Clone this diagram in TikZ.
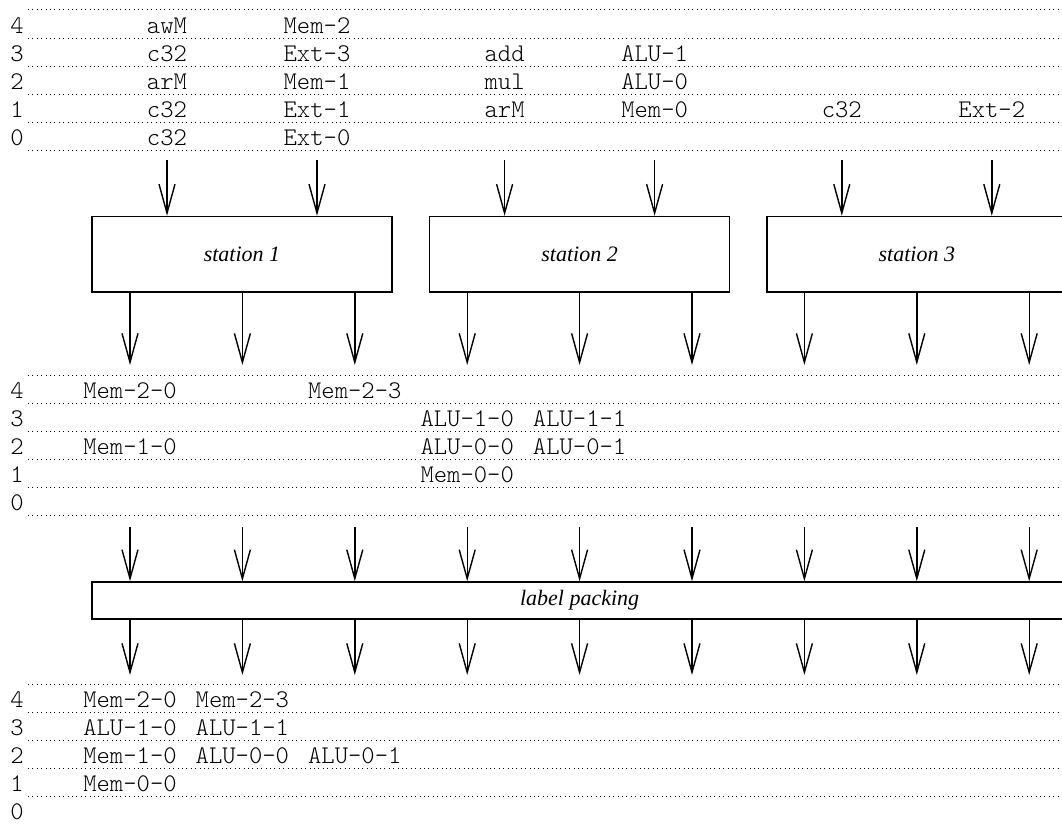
\documentclass[tikz,border=0pt]{standalone}
\usepackage{fontspec}
\setmainfont{Liberation Serif}
\setmonofont{Latin Modern Mono Light}
\usetikzlibrary{arrows.meta,positioning}
\tikzset{
  rowline/.style={
    line width=.5pt,
    dash pattern=on .5pt off 1.7pt
  },
  slot/.style={
    anchor=base,
    inner sep=0pt,
    font=\ttfamily\fontsize{12.7}{14}\selectfont
  },
  station/.style={
    draw,
    line width=.7pt,
    minimum width=150pt,
    minimum height=37.75pt,
    inner sep=0pt,
    font=\itshape\fontsize{11}{13}\selectfont
  },
  flow/.style={
    -{Straight Barb[length=14.5pt,width=8pt]},
    line width=.7pt
  }
}

\begin{document}
\begin{tikzpicture}[x=.5pt,y=-.5pt]
\useasboundingbox (0,0) rectangle (1062,824);

% tables of slots
\foreach \y in {10,38.1,66.2,94.3,122.4,150.5,375,403,431,459,487,515,684,712,740,768,796}
  \draw[rowline] (28,\y) -- (1062,\y);
\foreach \b/\n [count=\k] in {33.1/4,61.2/3,89.3/2,117.4/1,145.5/0,398/4,426/3,454/2,482/1,510/0,707/4,735/3,763/2,791/1,819/0}
  \node[slot] (num\k) at (17,\b) {\n};

% scheduled operations
\node[slot] (op4a) at (167,33.1) {awM};
\node[slot] (op4b) at (317,33.1) {Mem-2};
\node[slot] (op3a) at (167,61.2) {c32};
\node[slot] (op3b) at (317,61.2) {Ext-3};
\node[slot] (op3c) at (504.6,61.2) {add};
\node[slot] (op3d) at (654.6,61.2) {ALU-1};
\node[slot] (op2a) at (167,89.3) {arM};
\node[slot] (op2b) at (317,89.3) {Mem-1};
\node[slot] (op2c) at (504.6,89.3) {mul};
\node[slot] (op2d) at (654.6,89.3) {ALU-0};
\node[slot] (op1a) at (167,117.4) {c32};
\node[slot] (op1b) at (317,117.4) {Ext-1};
\node[slot] (op1c) at (504.6,117.4) {arM};
\node[slot] (op1d) at (654.6,117.4) {Mem-0};
\node[slot] (op1e) at (841.8,117.4) {c32};
\node[slot] (op1f) at (991.8,117.4) {Ext-2};
\node[slot] (op0a) at (167,145.5) {c32};
\node[slot] (op0b) at (317,145.5) {Ext-0};

% labels per station
\node[slot] (lb4a) at (130,398) {Mem-2-0};
\node[slot] (lb4b) at (354.8,398) {Mem-2-3};
\node[slot] (lb3a) at (467.2,426) {ALU-1-0};
\node[slot] (lb3b) at (579.6,426) {ALU-1-1};
\node[slot] (lb2a) at (130,454) {Mem-1-0};
\node[slot] (lb2b) at (467.2,454) {ALU-0-0};
\node[slot] (lb2c) at (579.6,454) {ALU-0-1};
\node[slot] (lb1a) at (467.2,482) {Mem-0-0};

% packed labels
\node[slot] (pk4a) at (130,707) {Mem-2-0};
\node[slot] (pk4b) at (242.4,707) {Mem-2-3};
\node[slot] (pk3a) at (130,735) {ALU-1-0};
\node[slot] (pk3b) at (242.4,735) {ALU-1-1};
\node[slot] (pk2a) at (130,763) {Mem-1-0};
\node[slot] (pk2b) at (242.4,763) {ALU-0-0};
\node[slot] (pk2c) at (354.8,763) {ALU-0-1};
\node[slot] (pk1a) at (130,791) {Mem-0-0};

% blocks
\node[station] (st1) at (242,254.25) {station 1};
\node[station] (st2) at (579.6,254.25) {station 2};
\node[station] (st3) at (916.8,254.25) {station 3};
\node[station,minimum width=487.5pt,minimum height=18.5pt] (pack) at (579.6,600.5) {label packing};

% inputs
\foreach \x/\s [count=\k] in {167/st1,317/st1,504.6/st2,654.6/st2,841.8/st3,991.8/st3} {
  \coordinate (in\k) at (\x,160);
  \draw[flow] (in\k) -- (in\k |- \s.north);
}
% outputs
\foreach \s [count=\k] in {st1,st1,st1,st2,st2,st2,st3,st3,st3} {
  \coordinate (out\k) at ({130+112.4*(\k-1)},365);
  \coordinate (mid\k) at ({130+112.4*(\k-1)},527);
  \coordinate (end\k) at ({130+112.4*(\k-1)},675);
  \draw[flow] (\s.south -| out\k) -- (out\k);
  \draw[flow] (mid\k) -- (mid\k |- pack.north);
  \draw[flow] (pack.south -| end\k) -- (end\k);
}
\end{tikzpicture}
\end{document}
